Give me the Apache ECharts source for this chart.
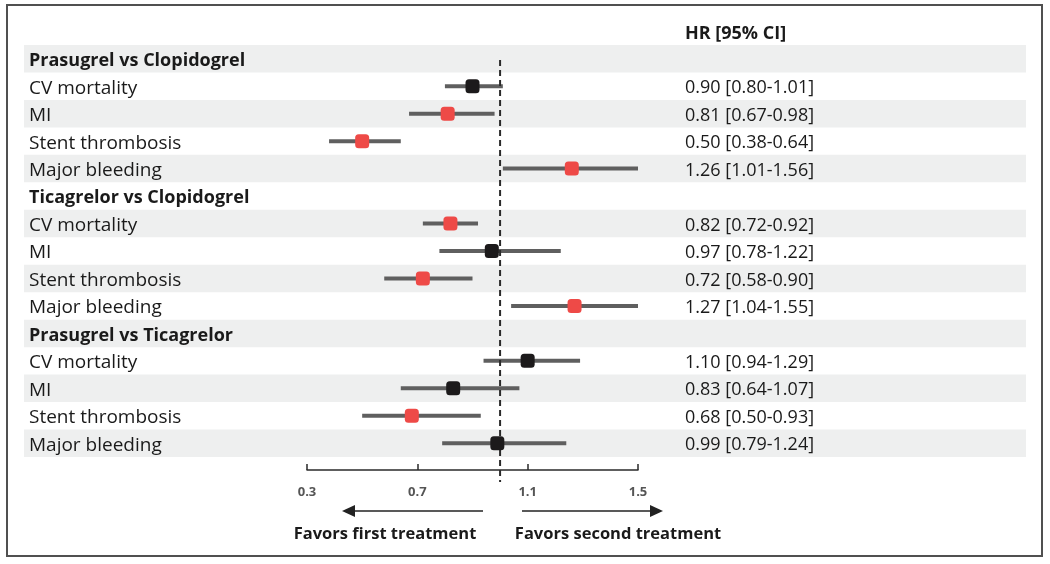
<!DOCTYPE html>
<html><head><meta charset="utf-8">
<script src="https://cdn.jsdelivr.net/npm/echarts@6/dist/echarts.min.js"></script>
<style>html,body{margin:0;padding:0;background:#fff}#c{width:1050px;height:564px}</style>
</head><body><div id="c"></div>
<script>
const groups = ['Prasugrel vs Clopidogrel', 'Ticagrelor vs Clopidogrel', 'Prasugrel vs Ticagrelor'];
const outcomes = ['CV mortality', 'MI', 'Stent thrombosis', 'Major bleeding'];
const hrValues = [[0.90, 0.81, 0.50, 1.26], [0.82, 0.97, 0.72, 1.27], [1.10, 0.83, 0.68, 0.99]];
const ciLow = [[0.80, 0.67, 0.38, 1.01], [0.72, 0.78, 0.58, 1.04], [0.94, 0.64, 0.50, 0.79]];
const ciHigh = [[1.01, 0.98, 0.64, 1.56], [0.92, 1.22, 0.90, 1.55], [1.29, 1.07, 0.93, 1.24]];
const tickValues = [0.3, 0.7, 1.1, 1.5];
const refValue = 1.0;

const FONT = 'Open Sans';
const rows = [];
groups.forEach((g, gi) => {
  rows.push({ label: g, header: true });
  outcomes.forEach((o, oi) => {
    rows.push({ label: o, header: false, hr: hrValues[gi][oi], lo: ciLow[gi][oi], hi: ciHigh[gi][oi] });
  });
});
const cats = rows.map((r, i) => String(i));
const fmt = v => v.toFixed(2);

const ciData = [], ptData = [];
rows.forEach((r, i) => {
  if (r.header) return;
  ciData.push([r.lo, r.hi, i]);
  const sig = r.hi < refValue || r.lo > refValue;
  ptData.push({ value: [r.hr, i], itemStyle: { color: sig ? '#EE4A47' : '#1C1A1B' } });
});

const chart = echarts.init(document.getElementById('c'), null, { renderer: 'canvas' });
chart.setOption({
  animation: false,
  backgroundColor: '#fff',
  grid: { left: 307, right: 412, top: 45, bottom: 107 },
  xAxis: {
    type: 'value', min: 0.3, max: 1.5, offset: 13,
    axisLine: { show: true, lineStyle: { color: '#2a2a2a', width: 1.5 } },
    axisTick: { show: true, inside: true, length: 6, customValues: tickValues, lineStyle: { color: '#2a2a2a', width: 1.5 } },
    axisLabel: { customValues: tickValues, formatter: v => v.toFixed(1), color: '#555', fontWeight: 'bold', fontSize: 13, fontFamily: FONT, margin: 16 },
    splitLine: { show: false }
  },
  yAxis: [{
    type: 'category', data: cats, inverse: true,
    axisLine: { show: false }, axisTick: { show: false }, splitLine: { show: false },
    axisLabel: {
      align: 'left', margin: 278, fontFamily: FONT, fontSize: 19, color: '#1a1a1a',
      formatter: (v) => { const r = rows[+v]; return r.header ? '{b|' + r.label + '}' : '{n|' + r.label + '}'; },
      rich: {
        b: { fontWeight: 'bold', fontSize: 18, fontFamily: FONT, color: '#1a1a1a', padding: [4, 0, 0, 0] },
        n: { fontSize: 19, fontFamily: FONT, color: '#1a1a1a', padding: [4, 0, 0, 0] }
      }
    }
  }, {
    type: 'category', data: cats, inverse: true, position: 'right',
    axisLine: { show: false }, axisTick: { show: false }, splitLine: { show: false },
    axisLabel: {
      align: 'left', margin: 47, fontFamily: FONT, fontSize: 18, color: '#1a1a1a',
      formatter: (v) => { const r = rows[+v]; return r.header ? '' : '{n|' + fmt(r.hr) + ' [' + fmt(r.lo) + '-' + fmt(r.hi) + ']}'; },
      rich: { n: { fontSize: 18, fontFamily: FONT, color: '#1a1a1a', padding: [4, 0, 0, 0] } }
    }
  }],
  graphic: [
    { type: 'rect', shape: { x: 7, y: 5, width: 1035, height: 551 }, style: { fill: 'none', stroke: '#505050', lineWidth: 2 }, z: 100 },
    { type: 'text', x: 685, y: 34, style: { text: 'HR [95% CI]', font: 'bold 18px "' + FONT + '"', fill: '#1a1a1a', verticalAlign: 'middle' } },
    { type: 'polyline', shape: { points: [[483, 511], [352, 511]] }, style: { stroke: '#222', lineWidth: 1.5 } },
    { type: 'polygon', shape: { points: [[342, 511], [355, 505], [355, 517]] }, style: { fill: '#222' } },
    { type: 'polyline', shape: { points: [[522, 511], [653, 511]] }, style: { stroke: '#222', lineWidth: 1.5 } },
    { type: 'polygon', shape: { points: [[663, 511], [650, 505], [650, 517]] }, style: { fill: '#222' } },
    { type: 'text', x: 385, y: 534, style: { text: 'Favors first treatment', font: 'bold 16.5px "' + FONT + '"', fill: '#1a1a1a', align: 'center', verticalAlign: 'middle' } },
    { type: 'text', x: 618, y: 534, style: { text: 'Favors second treatment', font: 'bold 16.5px "' + FONT + '"', fill: '#1a1a1a', align: 'center', verticalAlign: 'middle' } }
  ],
  series: [
    {
      type: 'custom', name: 'bands', silent: true, z: 0,
      data: rows.map((r, i) => [i]).filter(d => d[0] % 2 === 0),
      encode: { y: 0 },
      renderItem: (params, api) => {
        const c = api.coord([0.3, api.value(0)]);
        const h = api.size([0, 1])[1];
        return { type: 'rect', shape: { x: 24, y: c[1] - h / 2, width: 1002, height: h }, style: { fill: '#EEEFEF' } };
      }
    },
    {
      type: 'custom', name: 'ci', clip: true, z: 2,
      data: ciData, encode: { x: [0, 1], y: 2 },
      renderItem: (params, api) => {
        const a = api.coord([api.value(0), api.value(2)]);
        const b = api.coord([api.value(1), api.value(2)]);
        return { type: 'line', shape: { x1: a[0], y1: a[1], x2: b[0], y2: b[1] }, style: { stroke: '#5f5f5f', lineWidth: 4 } };
      }
    },
    {
      type: 'custom', name: 'ref', z: 3, silent: true,
      data: [[refValue]], encode: { x: 0 },
      renderItem: (params, api) => {
        const p = api.coord([api.value(0), 0]);
        const cs = params.coordSys;
        return { type: 'line', shape: { x1: p[0], y1: cs.y + 15, x2: p[0], y2: cs.y + cs.height + 25 }, style: { stroke: '#2a2a2a', lineWidth: 2, lineDash: [6, 4] } };
      }
    },
    {
      type: 'scatter', name: 'hr', z: 4, symbol: 'roundRect', symbolSize: 14,
      itemStyle: { opacity: 1 },
      data: ptData
    }
  ]
});
</script></body></html>
